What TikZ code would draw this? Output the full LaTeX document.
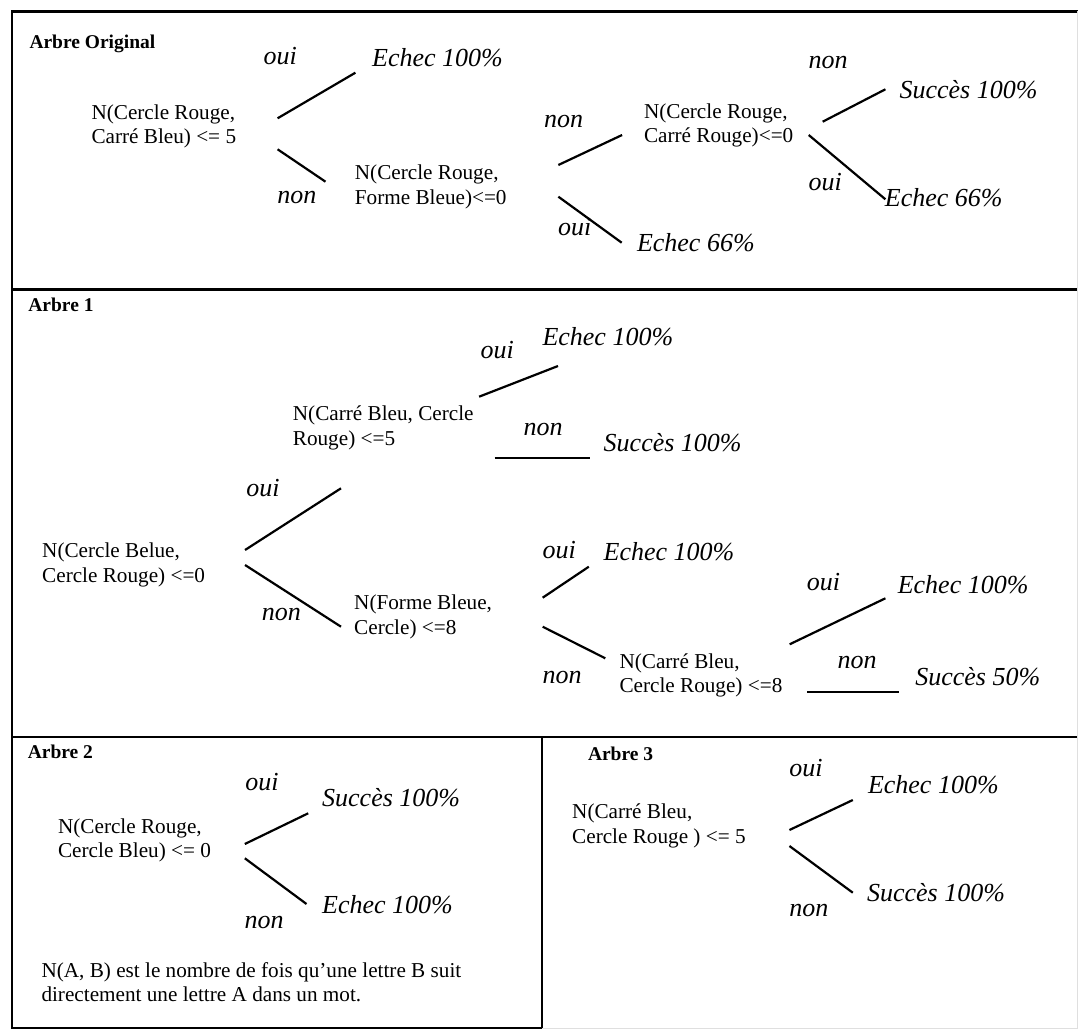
\documentclass[tikz,border=0pt]{standalone}
\usepackage{fontspec}
\setmainfont{Liberation Serif}

\tikzset{
  titre/.style={anchor=base west, inner sep=0pt, font=\fontsize{19.5}{23}\selectfont\bfseries},
  cond/.style={anchor=west, inner sep=0pt, align=left, font=\fontsize{21.2}{24.5}\selectfont},
  leaf/.style={anchor=base west, inner sep=0pt, font=\fontsize{26}{30}\selectfont\itshape},
  branch/.style={line width=2.2pt},
  cadre/.style={line width=2.6pt, line cap=rect}
}

\begin{document}
\begin{tikzpicture}[x=1pt, y=-1pt]
  \useasboundingbox (0,0) rectangle (1079,1030);
  % cadre
  \draw[cadre] (12,11.5) -- (1077,11.5);
  \draw[cadre] (12,11.5) -- (12,1028) -- (542,1028);
  \draw[cadre] (12,289.5) -- (1077,289.5);
  \draw[cadre] (12,737) -- (1077,737);
  \draw[cadre] (542,737) -- (542,1028);
  \draw[gray!25, line width=1pt] (1077,11.5) -- (1077,1028) -- (542,1028);

  % titres
  \node[titre] (t0) at (29.3,48.5) {Arbre Original};
  \node[titre] (t1) at (28.2,311.7) {Arbre 1};
  \node[titre] (t2) at (27.6,758.3) {Arbre 2};
  \node[titre] (t3) at (587.8,760) {Arbre 3};

  % conditions
  \node[cond] (r0) at (91.3,126.5) {N(Cercle Rouge,\\Carré Bleu) <= 5};
  \node[cond] (c1) at (354.7,187) {N(Cercle Rouge,\\Forme Bleue)<=0};
  \node[cond] (c2) at (643.8,125.5) {N(Cercle Rouge,\\Carré Rouge)<=0};
  \node[cond] (a1) at (42,565) {N(Cercle Belue,\\Cercle Rouge) <=0};
  \node[cond] (a1b) at (292.7,428) {N(Carré Bleu, Cercle\\Rouge) <=5};
  \node[cond] (a1c) at (354,617) {N(Forme Bleue,\\Cercle) <=8};
  \node[cond] (a1d) at (619.3,675.5) {N(Carré Bleu,\\Cercle Rouge) <=8};
  \node[cond] (b0) at (57.9,840.5) {N(Cercle Rouge,\\Cercle Bleu) <= 0};
  \node[cond] (c0) at (572,826) {N(Carré Bleu,\\Cercle Rouge ) <= 5};
  \node[cond] (note) at (41.3,982) {N(A, B) est le nombre de fois qu'une lettre B suit\\directement une lettre A dans un mot.};

  % feuilles
  \foreach \n/\x/\y/\t in {r0e/372/66.7/Echec 100\%, c1e/636.8/251.7/Echec 66\%,
      c2s/899.4/98.3/Succès 100\%, c2e/884.7/206.7/Echec 66\%,
      a1be/542.3/345/Echec 100\%, a1bs/603.5/451.7/Succès 100\%,
      a1ce/603.5/560/Echec 100\%, a1de/897.6/593.3/Echec 100\%,
      a1ds/915.1/685/Succès 50\%, b0s/322/806.7/Succès 100\%,
      b0e/322/913.3/Echec 100\%, c0e/867.8/793.3/Echec 100\%,
      c0s/866.8/901.7/Succès 100\%}{
    \node[leaf] (\n) at (\x,\y) {\t};
  }

  % oui / non
  \foreach \t/\x/\y [count=\i] in {oui/263.5/65, non/277.2/203.3, non/544/128, oui/558/235,
      non/808.3/68.3, oui/808.3/190, oui/480.4/358.3, non/523.5/435,
      oui/246.2/496.7, non/261.7/620, oui/542.3/558.3, non/542.3/683.3,
      oui/806.6/590, non/837.4/668.3, oui/245.2/790, non/244.5/928.3,
      oui/789.1/776.7, non/789.1/916.7}{
    \node[leaf] (rep\i) at (\x,\y) {\t};
  }

  % branches
  \draw[branch] ([shift={(41.3,-8.2)}]r0.east) -- ([shift={(-16.6,6)}]r0e.base west);
  \draw[branch] ([shift={(41.3,22.8)}]r0.east) -- ([shift={(-29.2,-5.3)}]c1.west);
  \draw[branch] ([shift={(51.6,-22)}]c1.east) -- ([shift={(-21.7,9.5)}]c2.west);
  \draw[branch] ([shift={(51.6,9.7)}]c1.east) -- ([shift={(-15.1,-9)}]c1e.base west);
  \draw[branch] ([shift={(29.2,-3.8)}]c2.east) -- ([shift={(-14,-9)}]c2s.base west);
  \draw[branch] ([shift={(15.2,9.5)}]c2.east) -- ([shift={(0.7,-7.4)}]c2e.base west);

  \draw[branch] ([shift={(39.8,-15)}]a1.east) -- ([shift={(48.3,60.3)}]a1b.west);
  \draw[branch] ([shift={(39.8,0)}]a1.east) -- ([shift={(-13,9.7)}]a1c.west);
  \draw[branch] ([shift={(5.3,-31.3)}]a1b.east) -- ([shift={(15.7,21)}]a1be.base west);
  \draw[branch] ([shift={(20.8,29.7)}]a1b.east) -- ([shift={(-14,6)}]a1bs.base west);
  \draw[branch] ([shift={(50.5,-19.3)}]a1c.east) -- ([shift={(-14.7,6.7)}]a1ce.base west);
  \draw[branch] ([shift={(50.5,9.7)}]a1c.east) -- ([shift={(-14,-17.2)}]a1d.west);
  \draw[branch] ([shift={(7.1,-31.2)}]a1d.east) -- ([shift={(-12.2,5)}]a1de.base west);
  \draw[branch] ([shift={(24.6,16.2)}]a1d.east) -- ([shift={(-15.7,6.7)}]a1ds.base west);

  \draw[branch] ([shift={(33.7,3.5)}]b0.east) -- ([shift={(-13.8,6.6)}]b0s.base west);
  \draw[branch] ([shift={(33.7,17.8)}]b0.east) -- ([shift={(-15.5,-9.3)}]b0e.base west);

  \draw[branch] ([shift={(43.6,4)}]c0.east) -- ([shift={(-15,6.7)}]c0e.base west);
  \draw[branch] ([shift={(43.6,20)}]c0.east) -- ([shift={(-14,-9)}]c0s.base west);
\end{tikzpicture}
\end{document}
